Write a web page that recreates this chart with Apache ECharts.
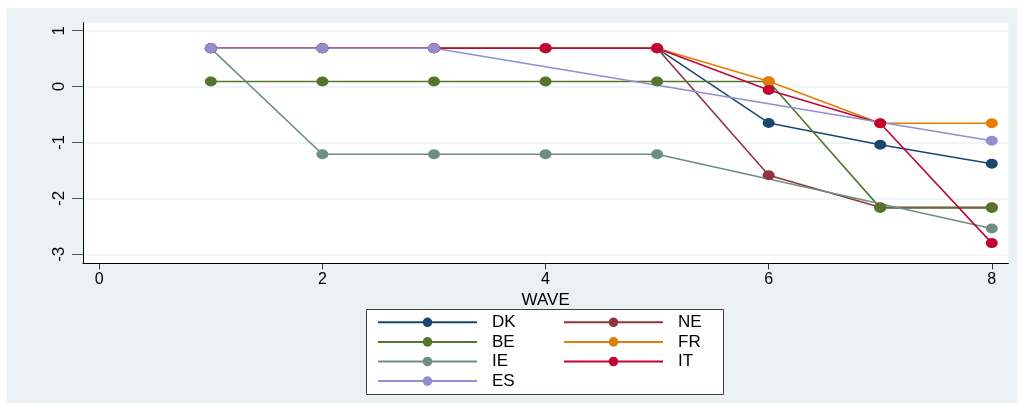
<!DOCTYPE html>
<html>
<head>
<meta charset="utf-8">
<script src="https://cdn.jsdelivr.net/npm/echarts@6/dist/echarts.min.js"></script>
<style>
  html, body { margin: 0; padding: 0; background: #ffffff; }
  #chart { width: 1023px; height: 410px; }
</style>
</head>
<body>
<div id="chart"></div>
<script>
// survey waves on the x axis
let waves = [1, 2, 3, 4, 5, 6, 7, 8];
let xTicks = [0, 2, 4, 6, 8];
let yTicks = [-3, -2, -1, 0, 1];

// country scores per wave (null = no value in that wave)
let DK = [0.685, 0.685, 0.685, 0.685, 0.685, -0.65, -1.04, -1.38];
let NE = [0.685, 0.685, 0.685, 0.685, 0.685, -1.585, -2.16, -2.16];
let BE = [0.09, 0.09, 0.09, 0.09, 0.09, 0.09, -2.17, -2.17];
let FR = [0.685, 0.685, 0.685, 0.685, 0.685, 0.095, -0.655, -0.655];
let IE = [0.685, -1.21, -1.21, -1.21, -1.21, null, null, -2.54];
let IT = [0.685, 0.685, 0.685, 0.685, 0.685, -0.06, -0.655, -2.8];
let ES = [0.685, 0.685, 0.685, null, null, null, null, -0.97];

let names = ['DK', 'NE', 'BE', 'FR', 'IE', 'IT', 'ES'];
let values = [DK, NE, BE, FR, IE, IT, ES];
let colors = ['#1a476f', '#90353b', '#55752f', '#e37e00', '#6e8e84', '#c10534', '#938dd2'];

let font = 'Liberation Sans, Arial, sans-serif';

let chart = echarts.init(document.getElementById('chart'));

let series = names.map((name, i) => ({
  name,
  type: 'line',
  data: waves.map((w, j) => [w, values[i][j]]),
  connectNulls: true,
  symbol: 'circle',
  symbolSize: [12, 10],
  color: colors[i],
  lineStyle: { width: 1.6, color: colors[i] },
  itemStyle: { color: colors[i] },
  emphasis: { disabled: true },
  animation: false,
}));

let legendBase = {
  orient: 'vertical',
  padding: 0,
  itemWidth: 99,
  itemHeight: 12,
  itemGap: 0,
  textStyle: {
    fontFamily: font,
    fontSize: 17,
    color: '#000',
    lineHeight: 19.6,
    padding: [0, 0, 0, 10],
  },
  selectedMode: false,
};

chart.setOption({
  backgroundColor: '#ffffff',
  animation: false,
  graphic: [
    {
      type: 'rect',
      z: -10,
      shape: { x: 7, y: 8, width: 1010, height: 395 },
      style: { fill: '#eaf2f3' },
    },
    {
      type: 'rect',
      z: 0,
      shape: { x: 366.5, y: 309.5, width: 357, height: 85 },
      style: { fill: '#ffffff', stroke: '#404040', lineWidth: 1 },
    },
  ],
  grid: {
    left: 83,
    top: 22.7,
    right: 14.7,
    bottom: 146.7,
    show: true,
    backgroundColor: '#ffffff',
    borderWidth: 0,
  },
  legend: [
    Object.assign({}, legendBase, { left: 377, top: 312.5, data: ['DK', 'BE', 'IE', 'ES'] }),
    Object.assign({}, legendBase, { left: 563, top: 312.5, data: ['NE', 'FR', 'IT'] }),
  ],
  xAxis: {
    type: 'value',
    min: -0.146,
    max: 8.148,
    name: 'WAVE',
    nameLocation: 'middle',
    nameGap: 23,
    nameTextStyle: { fontFamily: font, fontSize: 17, color: '#000' },
    axisLine: { show: true, onZero: false, lineStyle: { color: '#000', width: 1 } },
    axisTick: { show: true, length: 6, customValues: xTicks, lineStyle: { color: '#333' } },
    axisLabel: { customValues: xTicks, fontFamily: font, fontSize: 16, color: '#000', margin: 8 },
    splitLine: { show: false },
  },
  yAxis: {
    type: 'value',
    min: -3.161,
    max: 1.143,
    axisLine: { show: true, onZero: false, lineStyle: { color: '#000', width: 1 } },
    axisTick: { show: true, length: 11, customValues: yTicks, lineStyle: { color: '#555' } },
    axisLabel: { customValues: yTicks, rotate: 90, fontFamily: font, fontSize: 17, color: '#000', margin: 15 },
    splitLine: { show: true, lineStyle: { color: '#eaf2f3', width: 1.5 } },
  },
  series,
});
</script>
</body>
</html>
